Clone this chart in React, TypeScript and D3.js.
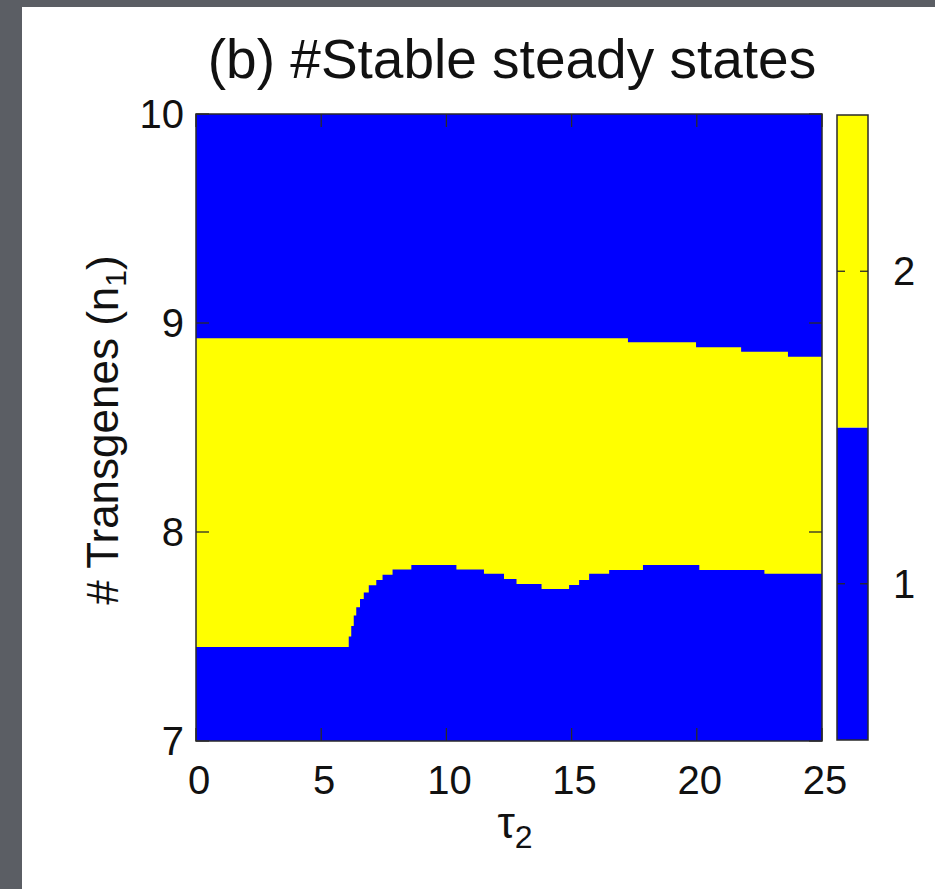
import React from "react";
import * as d3 from "d3";

// ---- data ----
const xTicks = [0, 5, 10, 15, 20, 25];
const yTicks = [7, 8, 9, 10];
const cbTicks = [1, 2];
const states = [1, 2];

// lower boundary of the 2-state (yellow) region: segment start tau, n value
const lowerTau = [0, 6.1, 6.2, 6.3, 6.4, 6.55, 6.7, 6.9, 7.2, 7.45, 7.85, 8.6, 10.4, 11.5, 12.3, 12.8, 13.8, 14.9, 15.3, 15.7, 16.5, 17.85, 20.1, 22.7];
const lowerN = [7.45, 7.5, 7.55, 7.6, 7.64, 7.68, 7.71, 7.745, 7.77, 7.795, 7.82, 7.842, 7.82, 7.8, 7.775, 7.751, 7.727, 7.746, 7.77, 7.8, 7.818, 7.842, 7.818, 7.8];

// upper boundary of the 2-state region
const upperTau = [0, 17.25, 19.97, 21.77, 23.64];
const upperN = [8.927, 8.908, 8.884, 8.863, 8.839];

const W = 935;
const H = 889;
const plot = { left: 196, right: 822, top: 114, bottom: 741 };
const cb = { left: 837, right: 868, top: 115, bottom: 740 };
const BLUE = "#0000ff";
const YELLOW = "#ffff00";
const FONT = "'Liberation Sans', Arial, Helvetica, sans-serif";

export default function App() {
  const x = d3.scaleLinear().domain([0, 25]).range([plot.left, plot.right]);
  const y = d3.scaleLinear().domain([7, 10]).range([plot.bottom, plot.top]);
  const yc = d3.scaleLinear().domain([0.5, 2.5]).range([cb.bottom, cb.top]);

  const lowerPts: [number, number][] = lowerTau.map((t, i) => [t, lowerN[i]]);
  lowerPts.push([25, lowerN[lowerN.length - 1]]);
  const upperPts: [number, number][] = upperTau.map((t, i) => [t, upperN[i]]);
  upperPts.push([25, upperN[upperN.length - 1]]);

  const bottomArea = d3
    .area<[number, number]>()
    .x((d) => x(d[0]))
    .y0(() => y(7))
    .y1((d) => y(d[1]))
    .curve(d3.curveStepAfter);
  const topArea = d3
    .area<[number, number]>()
    .x((d) => x(d[0]))
    .y0(() => y(10))
    .y1((d) => y(d[1]))
    .curve(d3.curveStepAfter);

  const tickLen = 13;
  const cbTickLen = 8;
  const stroke = "#2a2a2a";
  const tickFont = 40;

  return (
    <svg
      width={W}
      height={H}
      style={{ position: "absolute", left: 0, top: 0, display: "block" }}
      fontFamily={FONT}
    >
      <rect x={0} y={0} width={W} height={H} fill="#5b5e64" />
      <rect x={22} y={7} width={W - 22} height={H - 7} fill="#ffffff" />

      <text x={512} y={78} fontSize={55} textAnchor="middle" fill="#111">
        (b) #Stable steady states
      </text>

      {/* heatmap */}
      <rect x={plot.left} y={plot.top} width={plot.right - plot.left} height={plot.bottom - plot.top} fill={YELLOW} />
      <path d={bottomArea(lowerPts) || ""} fill={BLUE} />
      <path d={topArea(upperPts) || ""} fill={BLUE} />
      <rect
        x={plot.left}
        y={plot.top}
        width={plot.right - plot.left}
        height={plot.bottom - plot.top}
        fill="none"
        stroke={stroke}
        strokeWidth={1.5}
      />

      {/* x ticks */}
      {xTicks.map((t) => (
        <g key={"xt" + t}>
          <line x1={x(t)} x2={x(t)} y1={plot.bottom} y2={plot.bottom - tickLen} stroke={stroke} strokeWidth={1.3} />
          <line x1={x(t)} x2={x(t)} y1={plot.top} y2={plot.top + tickLen} stroke={stroke} strokeWidth={1.3} />
          <text x={x(t) + 3} y={794} fontSize={tickFont} textAnchor="middle" fill="#111">
            {t}
          </text>
        </g>
      ))}

      {/* y ticks */}
      {yTicks.map((t) => (
        <g key={"yt" + t}>
          <line x1={plot.left} x2={plot.left + tickLen} y1={y(t)} y2={y(t)} stroke={stroke} strokeWidth={1.3} />
          <line x1={plot.right} x2={plot.right - tickLen} y1={y(t)} y2={y(t)} stroke={stroke} strokeWidth={1.3} />
          <text x={184} y={y(t) + 14} fontSize={tickFont} textAnchor="end" fill="#111">
            {t}
          </text>
        </g>
      ))}

      {/* axis labels */}
      <text x={515} y={838} fontSize={44} textAnchor="middle" fill="#111">
        τ<tspan fontSize={32} dy={10}>2</tspan>
      </text>
      <text
        transform="translate(118,430) rotate(-90)"
        fontSize={44}
        textAnchor="middle"
        fill="#111"
      >
        # Transgenes (n<tspan fontSize={30} dy={8}>1</tspan>
        <tspan dy={-8}>)</tspan>
      </text>

      {/* colorbar */}
      {states.map((s) => (
        <rect
          key={"cb" + s}
          x={cb.left}
          y={yc(s + 0.5)}
          width={cb.right - cb.left}
          height={yc(s - 0.5) - yc(s + 0.5)}
          fill={s === 1 ? BLUE : YELLOW}
        />
      ))}
      <rect
        x={cb.left}
        y={cb.top}
        width={cb.right - cb.left}
        height={cb.bottom - cb.top}
        fill="none"
        stroke={stroke}
        strokeWidth={1.5}
      />
      {cbTicks.map((t) => (
        <g key={"cbt" + t}>
          <line x1={cb.left} x2={cb.left + cbTickLen} y1={yc(t)} y2={yc(t)} stroke={stroke} strokeWidth={1.3} />
          <line x1={cb.right} x2={cb.right - cbTickLen} y1={yc(t)} y2={yc(t)} stroke={stroke} strokeWidth={1.3} />
          <text x={893} y={yc(t) + 14} fontSize={tickFont} textAnchor="start" fill="#111">
            {t}
          </text>
        </g>
      ))}
    </svg>
  );
}
